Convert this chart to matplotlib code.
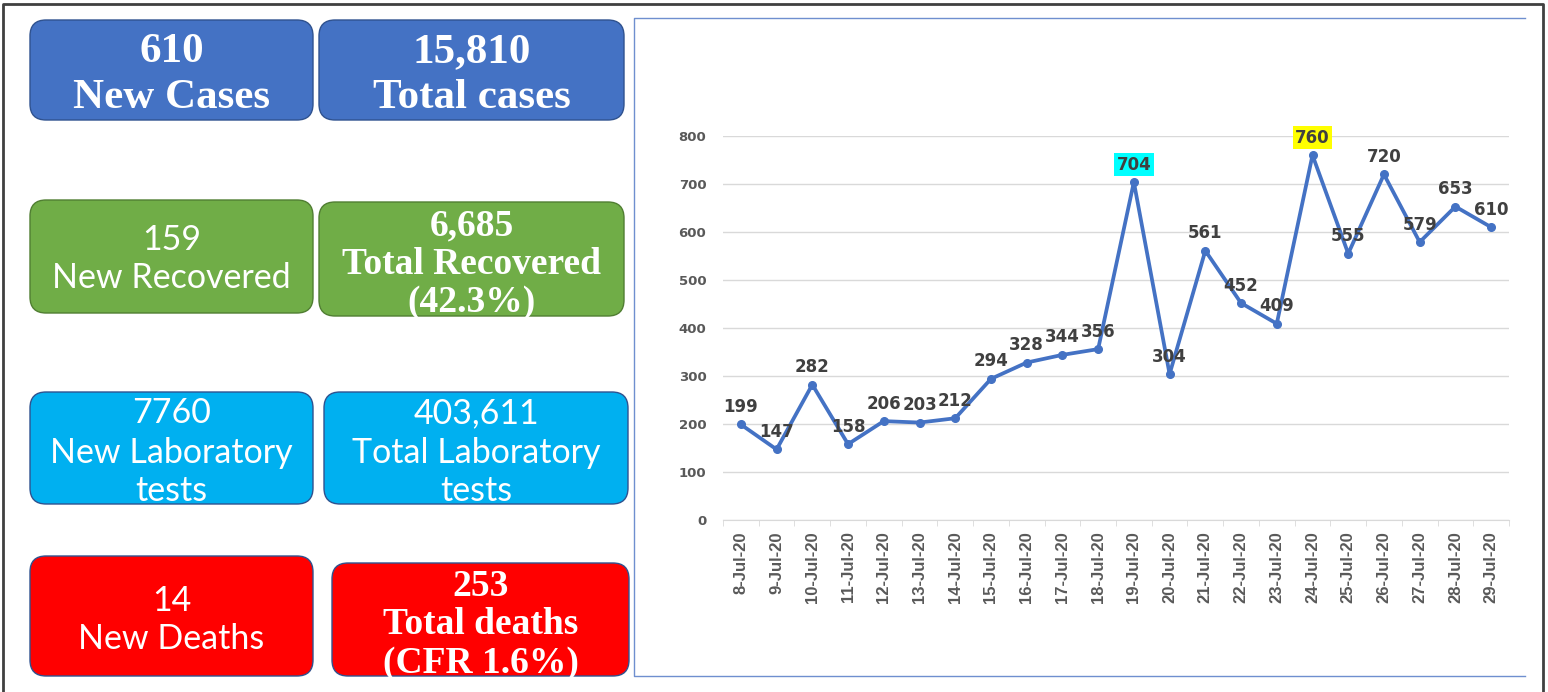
import numpy as np
import matplotlib
matplotlib.use("Agg")
import matplotlib.pyplot as plt
from matplotlib.patches import FancyBboxPatch

# daily new cases
dates = ["8-Jul-20", "9-Jul-20", "10-Jul-20", "11-Jul-20", "12-Jul-20", "13-Jul-20",
         "14-Jul-20", "15-Jul-20", "16-Jul-20", "17-Jul-20", "18-Jul-20", "19-Jul-20",
         "20-Jul-20", "21-Jul-20", "22-Jul-20", "23-Jul-20", "24-Jul-20", "25-Jul-20",
         "26-Jul-20", "27-Jul-20", "28-Jul-20", "29-Jul-20"]
new_cases = [199, 147, 282, 158, 206, 203, 212, 294, 328, 344, 356, 704,
             304, 561, 452, 409, 760, 555, 720, 579, 653, 610]
highlight = {"19-Jul-20": "#00FFFF", "24-Jul-20": "#FFFF00"}
yticks = [0, 100, 200, 300, 400, 500, 600, 700, 800]

# summary cards: (lines, bold serif?)
card_text = [
    (["610", "New Cases"], True),
    (["15,810", "Total cases"], True),
    (["159", "New Recovered"], False),
    (["6,685", "Total Recovered", "(42.3%)"], True),
    (["7760", "New Laboratory", "tests"], False),
    (["403,611", "Total Laboratory", "tests"], False),
    (["14", "New Deaths"], False),
    (["253", "Total deaths", "(CFR 1.6%)"], True),
]
card_colors = ["#4472C4", "#4472C4", "#70AD47", "#70AD47",
               "#00B0F0", "#00B0F0", "#FF0000", "#FF0000"]

W, H = 1548, 692
fig = plt.figure(figsize=(W / 100, H / 100), dpi=100)

# overlay in pixel coords for cards and frames
bg = fig.add_axes([0, 0, 1, 1])
bg.set_xlim(0, W)
bg.set_ylim(H, 0)
bg.axis("off")

# outer frame
bg.plot([3, 3, 1543, 1543], [692, 4, 4, 692], color="#404040", lw=2)
# chart frame
bg.plot([1525, 634, 634, 1525], [18, 18, 676, 676], color="#6F8FCF", lw=1)

# card boxes (x0, y0, x1, y1) and line centres
boxes = [(30, 20, 313, 120), (319, 20, 624, 120),
         (30, 200, 313, 313), (319, 202, 624, 316),
         (30, 392, 313, 504), (324, 392, 628, 504),
         (30, 556, 313, 676), (332, 563, 629, 676)]
line_y = [[48, 93], [48, 93],
          [237, 275], [222, 260, 298],
          [410, 450, 488], [410, 450, 488],
          [598, 636], [582, 621, 659]]
edge = {"#4472C4": "#2F528F", "#70AD47": "#507E32", "#00B0F0": "#2F528F", "#FF0000": "#2F528F"}

for (x0, y0, x1, y1), (lines, serif), col, ys in zip(boxes, card_text, card_colors, line_y):
    bg.add_patch(FancyBboxPatch((x0, y0), x1 - x0, y1 - y0,
                                boxstyle="round,pad=0,rounding_size=16",
                                fc=col, ec=edge[col], lw=1))
    cx = (x0 + x1) / 2
    for txt, yy in zip(lines, ys):
        if serif:
            size = 31 if y0 < 150 else 27
            bg.text(cx, yy, txt, ha="center", va="center_baseline", color="white",
                    fontsize=size, fontweight="bold", family="Liberation Serif")
        else:
            bg.text(cx, yy, txt, ha="center", va="center_baseline", color="white",
                    fontsize=24.5, family="Lato")

# line chart
ax = fig.add_axes([723 / W, 1 - 520 / H, 786 / W, 384 / H])
x = np.arange(len(dates))
ax.plot(x, new_cases, color="#4472C4", lw=2.7, marker="o", ms=5.5, zorder=3)
ax.set_xlim(-0.5, len(dates) - 0.5)
ax.set_ylim(0, 800)
ax.set_yticks(yticks)
ax.grid(axis="y", color="#D9D9D9", lw=1)
ax.set_axisbelow(True)
for s in ["top", "right", "left"]:
    ax.spines[s].set_visible(False)
ax.spines["bottom"].set_color("#D9D9D9")
ax.set_xticks(x)
ax.set_xticklabels(dates, rotation=90, fontsize=12, fontweight="bold", color="#595959",
                   family=["Liberation Sans Narrow", "Liberation Sans"])
ax.set_xticks(np.arange(-0.5, len(dates)), minor=True)
ax.tick_params(axis="x", which="major", length=0, pad=8)
ax.tick_params(axis="x", which="minor", length=4, color="#D9D9D9")
ax.tick_params(axis="y", length=0, pad=12, labelsize=9.5, labelcolor="#595959")
for lab in ax.get_yticklabels():
    lab.set_fontweight("bold")

for xi, (d, v) in enumerate(zip(dates, new_cases)):
    kw = {}
    if d in highlight:
        kw["bbox"] = dict(boxstyle="square,pad=0.15", fc=highlight[d], ec="none")
    ax.annotate(str(v), (xi, v), xytext=(0, 9), textcoords="offset points",
                ha="center", va="baseline", fontsize=12, fontweight="bold",
                color="#404040", **kw)

fig.savefig("out.png", dpi=100)
